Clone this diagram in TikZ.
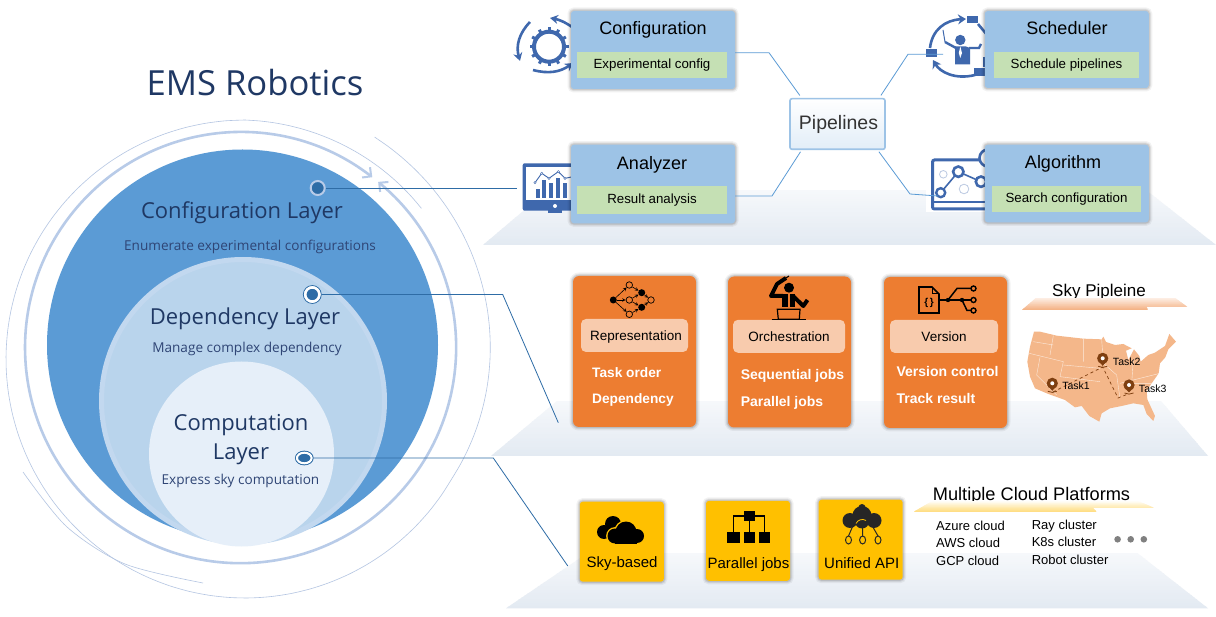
\documentclass[tikz,border=0pt]{standalone}
\usepackage{fontspec}
\setmainfont{Liberation Sans}
\newfontfamily\layerfont{Open Sans}
\usetikzlibrary{arrows.meta,shapes.geometric}
\definecolor{ringblue}{HTML}{B8CBE8}
\definecolor{thinblue}{HTML}{B4C5E2}
\definecolor{outercirc}{HTML}{5B9BD5}
\definecolor{midcirc}{HTML}{B9D4EC}
\definecolor{midedge}{HTML}{C2D8EF}
\definecolor{innercirc}{HTML}{E6EFF9}
\definecolor{navy}{HTML}{1F3864}
\definecolor{subnavy}{HTML}{2F4575}
\definecolor{dotblue}{HTML}{2E6CA6}
\definecolor{boxblue}{HTML}{9DC3E6}
\definecolor{boxgreen}{HTML}{C5E0B4}
\definecolor{linkblue}{HTML}{5B9BD5}
\definecolor{iconblue}{HTML}{3F68AD}
\definecolor{cardorange}{HTML}{ED7D31}
\definecolor{cardlight}{HTML}{F8CBAD}
\definecolor{boxyellow}{HTML}{FFC000}
\definecolor{mapcolor}{HTML}{F4B78A}
\definecolor{pinbrown}{HTML}{7F3F10}
\definecolor{platetop}{HTML}{F6F8FB}
\definecolor{platebot}{HTML}{E3EAF2}
\definecolor{skytop}{HTML}{FDEFE6}
\definecolor{skybot}{HTML}{F4B183}
\definecolor{cloudtop}{HTML}{FFFFFF}
\definecolor{cloudbot}{HTML}{FFDD80}
\newcommand{\fsz}[1]{\fontsize{#1}{#1}\selectfont}
\newcommand{\gradfill}[5]{%
        \begin{scope}
            \clip #1;
            \foreach \gstep in {0,...,29} {
                \pgfmathsetmacro{\gy}{#2+(#3-#2)*\gstep/30}
                \pgfmathsetmacro{\gyy}{\gy+(#3-#2)/30+0.5}
                \pgfmathtruncatemacro{\gmix}{100*\gstep/29}
                \fill[#5!\gmix!#4] (400,\gy) rectangle (1216,\gyy);
            }
        \end{scope}}
\begin{document}
\begin{tikzpicture}[x=1pt,y=-1pt]
        \tikzset{softshadow/.style={preaction={draw=black, opacity=0.05, line width=7pt}, preaction={draw=black, opacity=0.07, line width=4.5pt}, preaction={draw=black, opacity=0.1, line width=2.5pt}}}
        \tikzset{bluebox/.style={fill=boxblue, rounded corners=3pt, minimum width=164pt, minimum height=78pt, softshadow}}
        \tikzset{greenbox/.style={fill=boxgreen, minimum width=150pt, minimum height=26pt, inner sep=0pt, font=\fsz{13.3}}}
        \tikzset{boxtitle/.style={font=\fsz{18}, inner sep=0pt, text height=17pt, text depth=4pt}}
        \tikzset{card/.style={fill=cardorange, rounded corners=6pt, minimum width=123pt, minimum height=151pt, softshadow}}
        \tikzset{cardhead/.style={fill=cardlight, rounded corners=5pt, minimum height=33pt, inner sep=0pt, font=\fsz{13.5}, text height=13pt, text depth=3pt}}
        \tikzset{cardtext/.style={anchor=west, text=white, font=\fsz{14}\bfseries, inner sep=0pt, text height=13pt, text depth=3pt}}
        \tikzset{yellowbox/.style={fill=boxyellow, rounded corners=3pt, minimum width=84pt, minimum height=80pt, softshadow}}
        \tikzset{yellowtext/.style={font=\fsz{15}, inner sep=0pt, text height=15pt, text depth=3pt}}
        \tikzset{listtext/.style={anchor=west, font=\fsz{13}, inner sep=0pt, text height=14pt, text depth=3pt}}
        \tikzset{layertitle/.style={font=\layerfont\fsz{22}, text=navy, inner sep=0pt, text height=21pt, text depth=5pt}}
        \tikzset{layersub/.style={font=\layerfont\fsz{13.6}, text=subnavy, inner sep=0pt, text height=14pt, text depth=3pt}}
        \tikzset{thinarc/.style={draw=thinblue, line width=0.6pt}}
        \tikzset{layerlink/.style={draw=dotblue, line width=0.8pt}}
        \tikzset{pipelink/.style={draw=linkblue, line width=0.8pt}}
        \tikzset{maptext/.style={font=\fsz{10.5}, inner sep=0pt}}
        \tikzset{graphopen/.style={circle, draw=black, fill=cardorange, line width=0.7pt, minimum size=6.5pt, inner sep=0pt}}
        \tikzset{graphfull/.style={circle, fill=black, minimum size=7pt, inner sep=0pt}}
        \tikzset{graphedge/.style={->, >=stealth, line width=0.6pt, black}}
        \tikzset{mappin/.pic={
                \fill[pinbrown] (-5.1,1.8) -- (0,7.5) -- (5.1,1.8) -- cycle;
                \fill[pinbrown] (0,0) circle [radius=5.6pt];
                \fill[white] (0,0) circle [radius=2pt];
                \draw[pinbrown, line width=0.8pt] (-4.5,8) to[bend right=25] (4.5,8);
        }}
        \useasboundingbox (0,0) rectangle (1216,617);
        \fill[white] (0,0) rectangle (1216,617);

        \draw[thinarc] plot[smooth, domain=40.5:90, samples=15] ({245+(232+7*(\x-40.5)/49.5)*cos(\x)}, {359-(232+7*(\x-40.5)/49.5)*sin(\x)});
        \draw[thinarc] plot[smooth, domain=90:330, samples=50] ({245+239*cos(\x)}, {359-239*sin(\x)});
        \draw[thinarc] plot[smooth, domain=330:419.7, samples=25] ({245+(239+18*(\x-330)/89.7)*cos(\x)}, {359-(239+18*(\x-330)/89.7)*sin(\x)});
        \draw[thinarc] plot[smooth] coordinates {(23,472) (66.7,526.7) (125,564) (203,583)};
        \draw[draw=ringblue, line width=2.6pt, {Straight Barb[length=6.5pt,width=13pt,line width=2pt]}-{Straight Barb[length=6.5pt,width=13pt,line width=2pt]}] (372.3,177.2) arc [start angle=52.3, end angle=410.3, radius=215.5pt];
        \fill[outercirc] (242.5,345) circle [radius=195.5pt];
        \draw[fill=midcirc, draw=midedge, line width=5pt] (243,401) circle [radius=141.5pt];
        \fill[innercirc] (241.5,454) circle [radius=92.5pt];

        \node[font=\layerfont\fsz{34.6}, text=navy, inner sep=0pt] (emstitle) at (255,83) {EMS Robotics};
        \node[layertitle] (cfgtitle) at (242,211) {Configuration Layer};
        \node[layersub] (cfgsub) at (250,245) {Enumerate experimental configurations};
        \node[layertitle] (deptitle) at (245,317) {Dependency Layer};
        \node[layersub] (depsub) at (247,347) {Manage complex dependency};
        \node[layertitle] (comptitle) at (241,423) {Computation};
        \node[layertitle] (complayer) at (241,452) {Layer};
        \node[layersub] (compsub) at (240.5,479) {Express sky computation};

        \gradfill{(483,245) -- (548,190) -- (1146,190) -- (1216,245) -- cycle}{190}{245}{platetop}{platebot}
        \gradfill{(491,456) -- (557,401) -- (1161,401) -- (1208,456) -- cycle}{401}{456}{platetop}{platebot}
        \gradfill{(506,608.3) -- (588,552.7) -- (1137,552.7) -- (1208,608.3) -- cycle}{552.7}{608.3}{platetop}{platebot}

        \node[circle, draw=ringblue, fill=dotblue, line width=2pt, minimum size=14pt, inner sep=0pt] (cfgdot) at (317.7,188) {};
        \node[circle, draw=dotblue, fill=dotblue, line width=0.7pt, minimum size=18pt, inner sep=0pt, path picture={\draw[white, line width=3pt] (path picture bounding box.center) circle [radius=7.3pt];}] (depdot) at (312.3,294.5) {};
        \node[ellipse, draw=dotblue, fill=dotblue, line width=0.7pt, minimum width=18pt, minimum height=14pt, inner sep=0pt, path picture={\draw[white, line width=2.2pt] (path picture bounding box.center) ellipse [x radius=7.4pt, y radius=5.4pt];}] (compdot) at (304.3,458) {};
        \coordinate (anaend) at (517,188);
        \coordinate (depbend) at (502.7,294.5);
        \coordinate (deptail) at (558.3,422.7);
        \coordinate (compbend) at (493.3,458);
        \coordinate (comptail) at (567.8,566);
        \draw[layerlink] (cfgdot) -- (anaend);
        \draw[layerlink] (depdot) -- (depbend) -- (deptail);
        \draw[layerlink] (compdot) -- (compbend) -- (comptail);

        \coordinate (gear) at (549,46.7);
        \draw[iconblue, line width=4pt] (gear) circle [radius=15pt];
        \foreach \a in {0,30,...,330}
            \draw[iconblue, line width=3pt] ([shift={(\a:15pt)}]gear) -- ([shift={(\a:19.5pt)}]gear);
        \draw[iconblue, line width=2.6pt, -{Stealth[length=8pt,width=9pt]}] (572,27) to[bend right=12] (550,18);
        \draw[iconblue, line width=2.6pt, -{Stealth[length=8pt,width=9pt]}] (530,22) to[bend right=30] (520,61);
        \draw[iconblue, line width=2.6pt, -{Stealth[length=8pt,width=9pt]}] (533,70) to[bend right=25] (573,63);

        \draw[iconblue, line width=2.6pt, -{Stealth[length=8pt,width=10pt]}] (930,48) .. controls (932,30) and (945,20) .. (966,19);
        \draw[iconblue, line width=2.6pt, -{Stealth[length=8pt,width=10pt]}] (975,75) .. controls (955,80) and (940,72) .. (933,60);
        \draw[iconblue, line width=2.6pt] (978,24) -- (988,36);
        \fill[iconblue] (967.3,15.7) rectangle (978.3,23.3);
        \fill[iconblue] (926,49.3) rectangle (937,56.7);
        \fill[iconblue] (974.3,68.3) rectangle (986,75.7);
        \fill[iconblue] (983,56.7) rectangle (988,66.7);
        \fill[iconblue] (960.3,40) circle [radius=5.2pt];
        \fill[iconblue] (954.5,46.5) -- (966,46.5) -- (970,48) -- (970,64.3) -- (955,64.3) -- (955,48) -- cycle;
        \fill[white] (960.3,46.5) -- (962,53) -- (960.3,58) -- (958.8,53) -- cycle;
        \draw[iconblue, line width=2.4pt] (956,48) -- (945,42);
        \draw[iconblue, line width=1pt] (945,42) -- (943,30);
        \draw[iconblue, line width=2.4pt] (969,48) -- (979,48) -- (981,44);

        \fill[iconblue, rounded corners=2pt] (522.7,163.3) rectangle (595,210.7);
        \fill[white] (526,166.7) rectangle (592,200);
        \fill[iconblue] (547.7,210) rectangle (562.3,212.7);
        \fill[white] (555,206) circle [radius=2pt];
        \foreach \bx/\by in {535.7/189, 542/180, 549/182.7, 556/178.3, 563.3/182.7}
            \fill[iconblue] (\bx,\by) rectangle (\bx+4,197.7);
        \draw[iconblue, line width=0.9pt] (535,182.7) -- (541.7,173.3) -- (549,178.3) -- (558.3,171.7) -- (565,178.3) -- (573,176.7);
        \foreach \px/\py in {535/182.7, 541.7/173.3, 549/178.3, 558.3/171.7, 565/178.3}
            \draw[iconblue, fill=white, line width=0.4pt] (\px,\py) circle [radius=1.2pt];

        \fill[white] (926,150) rectangle (992,212);
        \draw[iconblue, line width=3pt, rounded corners=2pt] (932.5,160) rectangle (995,209);
        \fill[iconblue] (932.5,201) rectangle (995,203);
        \draw[iconblue!35, fill=white, line width=0.8pt] (943.3,174.3) circle [radius=3.8pt];
        \draw[iconblue!35, line width=0.8pt] (964,189) circle [radius=4.8pt];
        \draw[iconblue, line width=1.6pt] (940.7,192.7) -- (958.3,171.7) -- (981,181.7);
        \draw[iconblue, fill=white, line width=2.4pt] (940.7,192.7) circle [radius=4.5pt];
        \draw[iconblue, fill=white, line width=2.6pt] (958.3,171.7) circle [radius=5.2pt];
        \draw[iconblue, fill=white, line width=2.6pt] (981,181.7) circle [radius=5.2pt];
        \draw[iconblue, fill=white, line width=2.6pt] (988,158) circle [radius=8.5pt];

        \node[bluebox] (config) at (653,50) {};
        \node[bluebox, minimum height=77pt] (scheduler) at (1066.75,49.5) {};
        \node[bluebox, minimum height=78.6pt] (analyzer) at (653,184) {};
        \node[bluebox, minimum height=77.6pt] (algorithm) at (1066.75,183.5) {};
        \node[boxtitle] (configtxt) at (653,28.5) {Configuration};
        \node[boxtitle] (schedtxt) at (1067,28.5) {Scheduler};
        \node[boxtitle] (analyzertxt) at (652,163.5) {Analyzer};
        \node[boxtitle] (algotxt) at (1063,162.5) {Algorithm};
        \node[greenbox] (expcfg) at (652,64.9) {Experimental config};
        \node[greenbox, minimum width=145pt] (schedpipe) at (1066.5,65) {Schedule pipelines};
        \node[greenbox, minimum height=27.7pt] (resana) at (652,199.8) {Result analysis};
        \node[greenbox, minimum width=149pt, minimum height=25.7pt] (searchcfg) at (1066.5,198.8) {Search configuration};
        \node[draw=boxblue, line width=1.6pt, rounded corners=2pt, top color=white, bottom color=boxblue!30, minimum width=95pt, minimum height=50.6pt, font=\fsz{19.5}, text=black!80, inner sep=0pt, text height=15pt, text depth=4pt] (pipes) at (837.5,124) {\hspace{2pt}Pipelines};

        \coordinate (cfgbend) at (769,52.7);
        \coordinate (schedbend) at (908,54.3);
        \coordinate (schedend) at (943,54.3);
        \coordinate (anabend) at (772,196);
        \coordinate (algobend) at (910,194);
        \coordinate (algoend) at (938,196);
        \draw[pipelink, shorten >=3pt] (config.east |- cfgbend) -- (cfgbend) -- (pipes.144);
        \draw[pipelink, shorten >=3pt] (schedend) -- (schedbend) -- (pipes.32);
        \draw[pipelink, shorten >=2pt] (analyzer.east |- anabend) -- (anabend) -- (pipes.216);
        \draw[pipelink, shorten >=2pt] (algoend) -- (algobend) -- (pipes.327);

        \node[card] (repcard) at (634.5,351.5) {};
        \node[card] (orchcard) at (789.5,352) {};
        \node[card] (vercard) at (945.5,352.5) {};
        \node[cardhead, minimum width=107pt] (rephead) at (634.5,335.5) {\hspace{3pt}Representation};
        \node[cardhead, minimum width=112pt] (orchhead) at (789,336.3) {Orchestration};
        \node[cardhead, minimum width=108pt] (verhead) at (944,336.5) {Version};
        \node[cardtext, font=\fsz{13.7}\bfseries] (taskorder) at (592,373) {Task order};
        \node[cardtext, font=\fsz{13.7}\bfseries] (dependency) at (592,399) {Dependency};
        \node[cardtext] (seqjobs) at (740.6,375) {Sequential jobs};
        \node[cardtext] (parjobs) at (740.6,402) {Parallel jobs};
        \node[cardtext] (verctrl) at (896.4,372) {Version control};
        \node[cardtext] (trackres) at (896.4,399) {Track result};

        \node[graphfull] (g1) at (613.3,300) {};
        \node[graphopen] (g2) at (629.3,285) {};
        \node[graphopen] (g3) at (629.3,300) {};
        \node[graphopen] (g4) at (629.3,314.3) {};
        \node[graphfull] (g5) at (641.7,292.7) {};
        \node[graphfull] (g6) at (641.7,307.3) {};
        \node[graphopen] (g7) at (651,300) {};
        \foreach \gfrom/\gto in {g1/g2, g1/g3, g1/g4, g2/g5, g3/g5, g3/g6, g4/g6, g5/g7, g6/g7}
            \draw[graphedge] (\gfrom) -- (\gto);

        \fill[black] (789,287.7) circle [radius=5pt];
        \fill[black] (781.7,294.5) rectangle (787.8,307.5);
        \fill[black] (789.5,294.5) rectangle (795,307.5);
        \draw[black, line width=4pt, line join=round] (783,296) -- (771,296) -- (777,284) -- (786,278);
        \draw[black, line width=1pt] (786,278) -- (789,276);
        \draw[black, line width=4pt, line join=round] (793,296) -- (803.3,306) -- (807.5,300);
        \draw[black, line width=1.2pt] (777.3,309.3) -- (800,309.3) -- (799.3,319.3) -- (778.3,319.3) -- cycle;
        \draw[black, line width=1.2pt] (771.7,319.5) -- (806,319.5);

        \draw[black, line width=1.6pt] (919,287) -- (932,287) -- (939,294) -- (939,313) -- (919,313) -- cycle;
        \draw[black, line width=1pt] (932,287) -- (932,294) -- (939,294);
        \node[font=\fsz{10}\bfseries, inner sep=0pt] (docbraces) at (929,303) {\{\,\}};
        \draw[black, line width=1.5pt] (939,300) -- (971,300);
        \draw[black, line width=1.5pt] (948,300) -- (957,288.5) -- (971,288.5);
        \draw[black, line width=1.5pt] (962,300) -- (967,310.5) -- (971,310.5);
        \foreach \ty in {288.5,300,310.5}
            \draw[black, fill=cardorange, line width=1.4pt] (973.5,\ty) circle [radius=2.5pt];
        \fill[black] (948,300) circle [radius=2.2pt];
        \fill[black] (962,300) circle [radius=2.2pt];

        \node[inner sep=0pt, font=\fsz{17}] (skytitle) at (1099,292) {Sky Pipleine};
        \gradfill{(1022,310) -- (1036,298) -- (1175,298) -- (1187,306.7) -- (1146.7,306.7) -- (1147.6,310) -- cycle}{298}{310}{skytop}{skybot}

        \begin{scope}[shift={(1020,320)}, x=0.3333pt, y=-0.3333pt]
            \fill[mapcolor] (42,35) -- (60,35) -- (110,47) -- (190,56) -- (245,58) -- (250,50) -- (258,66) -- (285,75) -- (310,72) -- (335,85) -- (318,92) -- (325,120) -- (342,88) -- (358,108) -- (362,125) -- (385,105) -- (405,98) -- (435,78) -- (448,42) -- (468,65) -- (445,88) -- (436,112) -- (420,130) -- (416,160) -- (395,190) -- (380,212) -- (382,238) -- (405,288) -- (400,303) -- (380,282) -- (370,255) -- (340,250) -- (305,258) -- (270,265) -- (245,280) -- (238,305) -- (208,288) -- (185,258) -- (165,262) -- (135,240) -- (85,222) -- (45,205) -- (30,170) -- (22,125) -- (30,80) -- cycle;
            \draw[white, line width=0.4pt, opacity=0.7] (40,65) -- (100,75) (100,47) -- (90,105) (28,100) -- (130,125) (60,112) -- (50,165) -- (110,225) (130,125) -- (120,170) (190,56) -- (190,125) (130,135) -- (240,145) (245,58) -- (250,130) -- (290,165) (120,170) -- (240,185) (290,165) -- (300,235) (340,120) -- (335,190) (300,190) -- (420,160) (340,190) -- (395,190);
        \end{scope}
        \coordinate (pinone) at (1052.3,383.3);
        \coordinate (pintwo) at (1102.7,358.3);
        \coordinate (pinthree) at (1129,385);
        \coordinate (pinbend) at (1118,398);
        \draw[pinbrown, line width=0.7pt, dashed] (1053,392) -- (1102.7,367) -- (pinbend) -- (1128,394);
        \pic at (pinone) {mappin};
        \pic at (pintwo) {mappin};
        \pic at (pinthree) {mappin};
        \node[maptext] (taskone) at (1076,386) {Task1};
        \node[maptext] (tasktwo) at (1126.7,361.7) {Task2};
        \node[maptext] (taskthree) at (1152.7,389) {Task3};

        \node[yellowbox] (skybox) at (621.8,541.7) {};
        \node[yellowbox] (parbox) at (748,540.8) {};
        \node[yellowbox] (apibox) at (860.7,539.7) {};
        \node[yellowtext] (skytxt) at (622,561.7) {Sky-based};
        \node[yellowtext] (partxt) at (748.5,562) {Parallel jobs};
        \node[yellowtext] (apitxt) at (861.7,562.7) {Unified API};

        \fill[black] (604,532) circle [radius=7pt];
        \fill[black] (613,524) circle [radius=8pt];
        \foreach \cx/\cy/\crad in {615/536/7.5, 626/532/10.5, 637/536/7}
            \fill[boxyellow] (\cx,\cy) circle [radius=\crad pt+1.4pt];
        \foreach \cx/\cy/\crad in {615/536/7.5, 626/532/10.5, 637/536/7}
            \fill[black] (\cx,\cy) circle [radius=\crad pt];
        \fill[black] (615,536) rectangle (637,543.5);

        \draw[black, line width=1.2pt] (749.5,516) -- (733.5,516) -- (733.5,533);
        \draw[black, line width=1.2pt] (749.5,516) -- (764.5,516) -- (764.5,533);
        \draw[black, line width=1.2pt] (749.5,516) -- (749.5,533);
        \fill[black] (744,511) rectangle (755,520.7);
        \fill[black] (727.4,531.7) rectangle (739.6,542.7);
        \fill[black] (744,531.7) rectangle (755,542.7);
        \fill[black] (759,531.7) rectangle (770,542.7);

        \foreach \cx/\cy/\crad in {850/520.5/7.5, 862/515.5/9.5, 874/520.5/7.5, 862/521.5/7, 862/507.5/3.5}
            \fill[black!85] (\cx,\cy) circle [radius=\crad pt];
        \draw[boxyellow, line width=0.8pt] (856,523.5) to[bend left=50] (866,520.5);
        \foreach \lx/\ly in {853/848.5, 862.5/862.6, 872/878}
            \draw[black!85, line width=1pt] (\lx,525.5) -- (\ly,536);
        \foreach \lx in {848.5,862.6,878}
            \draw[black!85, line width=1pt] (\lx,540) ellipse [x radius=3pt, y radius=4pt];

        \node[inner sep=0pt, font=\fsz{18.2}] (cloudtitle) at (1031.5,495.5) {Multiple Cloud Platforms};
        \gradfill{(914,511.7) -- (933,500.7) -- (1137,500.7) -- (1153.7,507.7) -- (1092.7,507.7) -- (1096.4,511.7) -- cycle}{500.7}{511.7}{cloudtop}{cloudbot}
        \node[listtext] (azure) at (936,525) {Azure cloud};
        \node[listtext] (aws) at (936,542.3) {AWS cloud};
        \node[listtext] (gcp) at (936,560) {GCP cloud};
        \node[listtext] (ray) at (1031.6,523.7) {Ray cluster};
        \node[listtext] (kube) at (1031.6,540.7) {K8s cluster};
        \node[listtext] (robot) at (1031.6,558.7) {Robot cluster};
        \foreach \dx in {1117.6,1130.7,1143.8}
            \fill[black!50] (\dx,539.3) circle [radius=3.3pt];
\end{tikzpicture}
\end{document}
